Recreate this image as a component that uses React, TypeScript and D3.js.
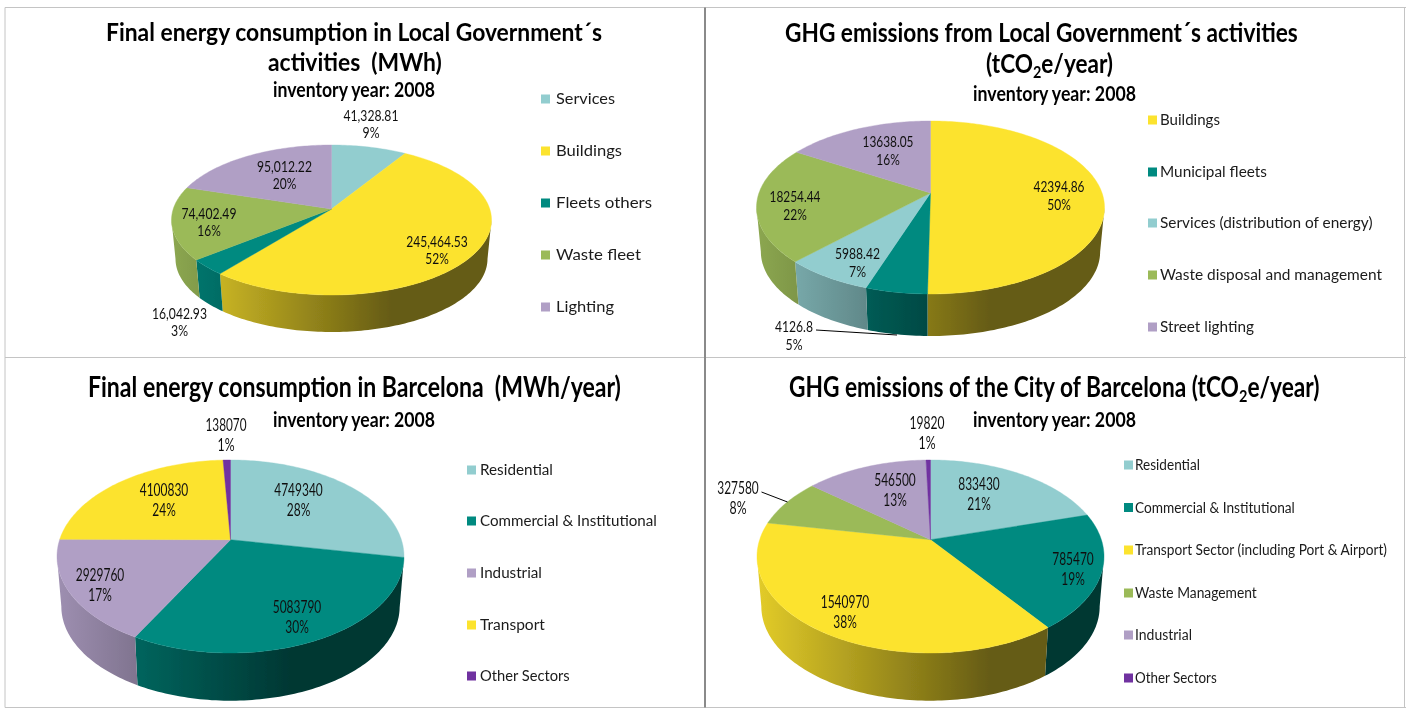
import React from "react";
import * as d3 from "d3";

const width = 1407;
const height = 708;

const LIGHT_BLUE = "#92cdcf";
const TEAL = "#008a80";
const YELLOW = "#fce32e";
const GREEN = "#9bba59";
const LILAC = "#b09fc5";
const VIOLET = "#7030a0";

// top left
const govEnergyCategories = ["Services", "Buildings", "Fleets others", "Waste fleet", "Lighting"];
const govEnergyValues = [41328.81, 245464.53, 16042.93, 74402.49, 95012.22];
const govEnergyPercents = [9, 52, 3, 16, 20];
const govEnergyColors = [LIGHT_BLUE, YELLOW, TEAL, GREEN, LILAC];

// top right
const govGhgCategories = ["Buildings", "Municipal fleets", "Services (distribution of energy)", "Waste disposal and management", "Street lighting"];
const govGhgValues = [42394.86, 4126.8, 5988.42, 18254.44, 13638.05];
const govGhgPercents = [50, 5, 7, 22, 16];
const govGhgColors = [YELLOW, TEAL, LIGHT_BLUE, GREEN, LILAC];

// bottom left
const cityEnergyCategories = ["Residential", "Commercial & Institutional", "Industrial", "Transport", "Other Sectors"];
const cityEnergyValues = [4749340, 5083790, 2929760, 4100830, 138070];
const cityEnergyPercents = [28, 30, 17, 24, 1];
const cityEnergyColors = [LIGHT_BLUE, TEAL, LILAC, YELLOW, VIOLET];

// bottom right
const cityGhgCategories = ["Residential", "Commercial & Institutional", "Transport Sector (including Port & Airport)", "Waste Management", "Industrial", "Other Sectors"];
const cityGhgValues = [833430, 785470, 1540970, 327580, 546500, 19820];
const cityGhgPercents = [21, 19, 38, 8, 13, 1];
const cityGhgColors = [LIGHT_BLUE, TEAL, YELLOW, GREEN, LILAC, VIOLET];

const comma2 = d3.format(",.2f");

// layout of the four panels, all in page pixels
const panels = [
  {
    categories: govEnergyCategories, values: govEnergyValues, percents: govEnergyPercents, colors: govEnergyColors,
    format: comma2,
    titleSize: 25, labelSize: 15, lineGap: 17,
    titles: [
      { parts: ["Final energy consumption in Local Government´s"], x0: 106, x1: 603, y: 41 },
      { parts: ["activities  (MWh)"], x0: 268, x1: 442, y: 71 },
    ],
    inventory: { x0: 273, x1: 436, y: 97 },
    pie: { cx: 331.5, apex: 209, top: 145, front: 295, halfW: 160, wallBottom: 332 },
    legend: { boxX: 541, textX: 556, ys: [99, 151, 203, 255, 307], ends: [615, 622, 652, 641, 614] },
    labels: [[371, 116, 55], [437, 242, 61.5], [179.5, 314, 55], [209, 214, 55], [284.5, 167, 55]],
    leader: null,
  },
  {
    categories: govGhgCategories, values: govGhgValues, percents: govGhgPercents, colors: govGhgColors,
    format: String,
    titleSize: 26, labelSize: 15.5, lineGap: 18,
    titles: [
      { parts: ["GHG emissions from Local Government´s activities"], x0: 785, x1: 1298, y: 42 },
      { parts: ["(tCO", "2", "e/year)"], x0: 986, x1: 1113, y: 73 },
    ],
    inventory: { x0: 973, x1: 1137, y: 101 },
    pie: { cx: 930.5, apex: 193, top: 121, front: 294, halfW: 174, wallBottom: 336 },
    legend: { boxX: 1148, textX: 1160, ys: [120, 172, 223, 275, 327], ends: [1220, 1267, 1373, 1382, 1254] },
    labels: [[1059, 187, 51], [794, 327, 38], [857.5, 254, 45], [795, 197, 51], [888, 142, 51]],
    leader: [[816, 330], [897, 335]],
  },
  {
    categories: cityEnergyCategories, values: cityEnergyValues, percents: cityEnergyPercents, colors: cityEnergyColors,
    format: String,
    titleSize: 28, labelSize: 17, lineGap: 20,
    titles: [{ parts: ["Final energy consumption in Barcelona  (MWh/year)"], x0: 88, x1: 622, y: 397 }],
    inventory: { x0: 273, x1: 436, y: 427 },
    pie: { cx: 230.5, apex: 539.7, top: 460, front: 653, halfW: 173.5, wallBottom: 700.7 },
    legend: { boxX: 467, textX: 480, ys: [470, 521, 573, 625, 676], ends: [553, 657, 542, 545, 570] },
    labels: [[298.5, 491, 48.5], [297, 608, 48.5], [100, 576, 48.5], [164, 491, 48.5], [226, 426, 41]],
    leader: null,
  },
  {
    categories: cityGhgCategories, values: cityGhgValues, percents: cityGhgPercents, colors: cityGhgColors,
    format: String,
    titleSize: 28, labelSize: 17, lineGap: 20,
    titles: [{ parts: ["GHG emissions of the City of Barcelona (tCO", "2", "e/year)"], x0: 789, x1: 1321, y: 397 }],
    inventory: { x0: 973, x1: 1137, y: 427 },
    pie: { cx: 930.5, apex: 539.7, top: 460, front: 653, halfW: 173.5, wallBottom: 700.7 },
    legend: { boxX: 1124, textX: 1135, ys: [465, 507.5, 550, 593, 635, 678], ends: [1200, 1295, 1388, 1257, 1192, 1217] },
    labels: [[979, 485, 41.5], [1073, 560, 41.5], [845, 603, 48.5], [738, 489, 41.5], [895, 481, 41.5], [927, 424, 35]],
    leader: [[761.5, 492], [787.5, 502]],
  },
];

const FONT = "Lato, 'Open Sans', sans-serif";
const shrink = 0.975; // the base rim is a bit narrower than the top one
const line = d3.line();

const ctx = document.createElement("canvas").getContext("2d") as CanvasRenderingContext2D;
const measure = (s: string, size: number, weight: number) => {
  ctx.font = `${weight} ${size}px ${FONT}`;
  return ctx.measureText(s).width;
};

// the reference font is condensed: squeeze each text to the width it has there
function Fit({ x0, x1, y, size, weight = 400, natural, children }: any) {
  const w = natural ?? measure(children, size, weight);
  return (
    <text transform={`translate(${x0},${y}) scale(${(x1 - x0) / w},1)`} fontSize={size} fontWeight={weight} style={{ whiteSpace: "pre" }}>
      {children}
    </text>
  );
}

// the pie is a tilted disc seen in perspective, so its centre is not the ellipse centre
function makeProjection(p: any) {
  const up = p.apex - p.top;
  const down = p.front - p.apex;
  const k = (up - down) / (up + down);
  const b = up * (1 - k);
  const a = p.halfW * Math.sqrt(1 - k * k);
  const dy = p.wallBottom - p.apex - (shrink * b) / (1 + k);
  return {
    edge: Math.acos(k), // angle of the widest point of the rim
    rim: (t: number) => {
      const w = 1 - k * Math.cos(t);
      return [p.cx + (a * Math.sin(t)) / w, p.apex - (b * Math.cos(t)) / w];
    },
    base: (t: number) => {
      const w = 1 - k * Math.cos(t);
      return [p.cx + (shrink * a * Math.sin(t)) / w, p.apex + dy - (shrink * b * Math.cos(t)) / w];
    },
  };
}

const sample = (a0: number, a1: number) => {
  const n = Math.max(2, Math.ceil((a1 - a0) / 0.02));
  return d3.range(n + 1).map((i) => a0 + ((a1 - a0) * i) / n);
};

const shade = (color: string, f: number) => {
  const c = d3.rgb(color);
  return d3.rgb(c.r * f, c.g * f, c.b * f).formatHex();
};

function Pie3D({ panel, id }: any) {
  const { pie: p, values, colors } = panel;
  const proj = makeProjection(p);
  const arcs = d3.pie<number>().sort(null)(values);
  const color = d3.scaleOrdinal<number, string>().domain(d3.range(values.length)).range(colors);
  const left = p.cx - p.halfW;
  const right = p.cx + 60;

  return (
    <g>
      <defs>
        {arcs.map((_, i) => (
          <linearGradient key={i} id={`${id}-${i}`} gradientUnits="userSpaceOnUse" x1={left} x2={right} y1={0} y2={0}>
            <stop offset="0" stopColor={shade(color(i), 0.9)} />
            <stop offset="1" stopColor={shade(color(i), 0.4)} />
          </linearGradient>
        ))}
      </defs>
      {arcs.map((d, i) => {
        // only the part of the side wall turned towards the viewer
        const from = Math.max(d.startAngle, proj.edge);
        const to = Math.min(d.endAngle, 2 * Math.PI - proj.edge);
        if (to <= from) return null;
        const ts = sample(from, to);
        const pts = [...ts.map(proj.rim), ...ts.slice().reverse().map(proj.base)] as [number, number][];
        return <path key={i} d={line(pts) + "Z"} fill={`url(#${id}-${i})`} />;
      })}
      {arcs.map((d, i) => {
        const pts = [[p.cx, p.apex], ...sample(d.startAngle, d.endAngle).map(proj.rim)] as [number, number][];
        return <path key={i} d={line(pts) + "Z"} fill={color(i)} stroke={color(i)} strokeWidth={0.4} />;
      })}
    </g>
  );
}

function Titles({ panel }: any) {
  const size = panel.titleSize;
  return (
    <g fontFamily={FONT} fill="#000">
      {panel.titles.map((t: any, i: number) => {
        if (t.parts.length === 1) {
          return <Fit key={i} x0={t.x0} x1={t.x1} y={t.y} size={size} weight={700}>{t.parts[0]}</Fit>;
        }
        const sub = size * 0.64;
        const natural = measure(t.parts[0] + t.parts[2], size, 700) + measure(t.parts[1], sub, 700);
        return (
          <Fit key={i} x0={t.x0} x1={t.x1} y={t.y} size={size} weight={700} natural={natural}>
            {t.parts[0]}
            <tspan fontSize={sub} dy={5}>{t.parts[1]}</tspan>
            <tspan dy={-5}>{t.parts[2]}</tspan>
          </Fit>
        );
      })}
      <Fit x0={panel.inventory.x0} x1={panel.inventory.x1} y={panel.inventory.y} size={20} weight={700}>
        inventory year: 2008
      </Fit>
    </g>
  );
}

function Legend({ panel }: any) {
  const { legend, categories, colors } = panel;
  const y = d3.scaleOrdinal<string, number>().domain(categories).range(legend.ys);
  return (
    <g fontFamily={FONT} fill="#1a1a1a">
      {categories.map((c: string, i: number) => (
        <g key={c}>
          <rect x={legend.boxX} y={y(c) - 4.5} width={9} height={9} fill={colors[i]} />
          <Fit x0={legend.textX} x1={legend.ends[i]} y={y(c) + 5} size={16}>{c}</Fit>
        </g>
      ))}
    </g>
  );
}

function DataLabels({ panel }: any) {
  const size = panel.labelSize;
  return (
    <g fontFamily={FONT} fill="#111">
      {panel.labels.map(([x, y, w]: number[], i: number) => {
        const pct = panel.percents[i];
        const pw = pct < 10 ? 17 : 23.5;
        return (
          <g key={i}>
            <Fit x0={x - w / 2} x1={x + w / 2} y={y + 5} size={size}>{panel.format(panel.values[i])}</Fit>
            <Fit x0={x - pw / 2} x1={x + pw / 2} y={y + 5 + panel.lineGap} size={size}>{pct + "%"}</Fit>
          </g>
        );
      })}
      {panel.leader && <path d={line(panel.leader) as string} fill="none" stroke="#000" strokeWidth={1} />}
    </g>
  );
}

export default function App() {
  return (
    <svg width={width} height={height} style={{ position: "absolute", left: 0, top: 0, background: "#fff" }}>
      <defs>
        <filter id="soft" x="0" y="0" width="100%" height="100%">
          <feGaussianBlur stdDeviation="0.45" />
        </filter>
      </defs>
      <g filter="url(#soft)">
        <rect x={0} y={0} width={width} height={height} fill="#fff" />
        <g stroke="#c4c4c4" strokeWidth={1} fill="none">
          <path d="M5 7.5H1406M5 7.5V707.5M5 357.5H1406M5 707.5H1406M1404.5 7.5V707.5" />
          <path d="M705 7.5V707.5" stroke="#8a8a8a" strokeWidth={2} />
        </g>
        {panels.map((panel, i) => (
          <g key={i}>
            <Titles panel={panel} />
            <Pie3D panel={panel} id={`wall${i}`} />
            <Legend panel={panel} />
            <DataLabels panel={panel} />
          </g>
        ))}
      </g>
    </svg>
  );
}
